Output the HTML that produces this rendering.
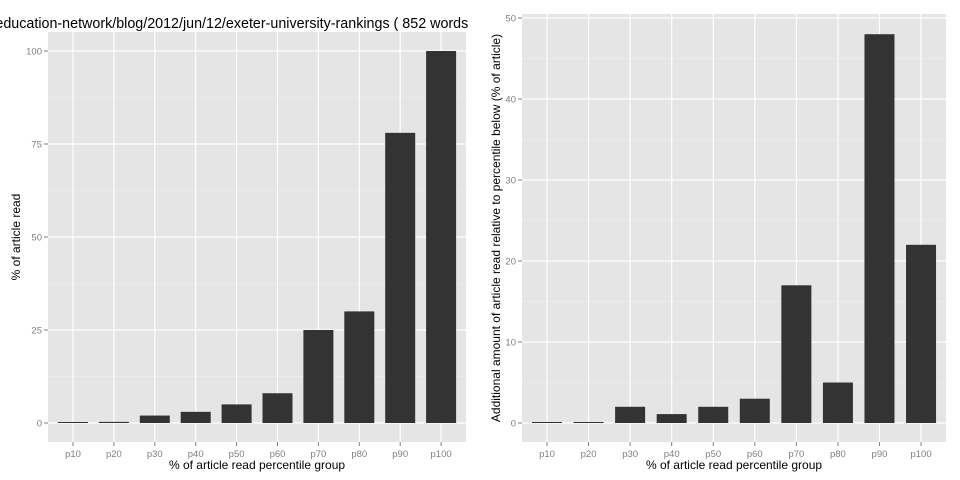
<!DOCTYPE html>
<html><head><meta charset="utf-8"><style>
html,body{margin:0;padding:0;background:#fff;width:960px;height:480px;overflow:hidden}
svg text{font-family:"Liberation Sans",sans-serif}
</style></head><body>
<svg id="c" width="960" height="480">
<defs><clipPath id="lc"><rect x="0" y="0" width="472" height="480"/></clipPath></defs>
</svg>
<script>
const categories=["p10","p20","p30","p40","p50","p60","p70","p80","p90","p100"];
const leftValues=[0.2,0.3,2,3,5,8,25,30,78,100];
const rightValues=[0.1,0.1,2,1.1,2,3,17,5,48,22];
const leftTicks=[0,25,50,75,100];
const rightTicks=[0,10,20,30,40,50];
const NS="http://www.w3.org/2000/svg";
const svg=document.getElementById('c');
function mk(t,a,p){const e=document.createElementNS(NS,t);for(const k in a)e.setAttribute(k,a[k]);(p||svg).appendChild(e);return e;}
function panel(o){
  const g=mk('g',{});
  
  
  const bg=mk('rect',{x:o.x0,y:o.y0,width:o.x1-o.x0,height:o.y1-o.y0,fill:'#e5e5e5'},g);
  
  
  const yS=v=>o.zeroY-v*o.ppu;
  const xS=i=>o.firstX+i*o.step;
  for(let i=0;i<o.ticks.length-1;i++){const m=(o.ticks[i]+o.ticks[i+1])/2;const y=yS(m);
    mk('line',{x1:o.x0,x2:o.x1,y1:y,y2:y,stroke:'#f2f2f2','stroke-width':0.6},g);}
  o.ticks.forEach(t=>{const y=yS(t);
    mk('line',{x1:o.x0,x2:o.x1,y1:y,y2:y,stroke:'#fff','stroke-width':1.2},g);
    mk('line',{x1:o.x0-4,x2:o.x0,y1:y,y2:y,stroke:'#7f7f7f','stroke-width':1},g);
    const tx=mk('text',{x:o.x0-6,y:y+3.5,'text-anchor':'end','font-size':9.5,fill:'#7f7f7f'},g);tx.textContent=t;
    
    
  });
  categories.forEach((c,i)=>{const x=xS(i);
    mk('line',{x1:x,x2:x,y1:o.y0,y2:o.y1,stroke:'#fff','stroke-width':1.2},g);
    mk('line',{x1:x,x2:x,y1:o.y1,y2:o.y1+4,stroke:'#7f7f7f','stroke-width':1},g);
    const tx=mk('text',{x:x,y:o.y1+15,'text-anchor':'middle','font-size':9.5,fill:'#7f7f7f'},g);tx.textContent=c;
    
    
  });
  o.values.forEach((v,i)=>{const x=xS(i);const top=yS(v);
    const r=mk('rect',{x:x-15,y:Math.min(top,o.zeroY-1),width:30,height:Math.max(o.zeroY-top,1),fill:'#333'},g);
    
    
  });
  const xl=mk('text',{x:(o.x0+o.x1)/2,y:o.y1+27,'text-anchor':'middle','font-size':12,fill:'#000'},g);xl.textContent='% of article read percentile group';
  
  
  const yl=mk('text',{transform:`translate(${o.ylx},${(o.y0+o.y1)/2}) rotate(-90)`,'text-anchor':'middle','font-size':12,fill:'#000'},g);yl.textContent=o.ytitle;
  
  
}
panel({name:'left-panel',x0:48,x1:466,y0:32,y1:442,zeroY:423,ppu:3.72,firstX:73,step:40.9,values:leftValues,ticks:leftTicks,ylx:20,ytitle:'% of article read'});
panel({name:'right-panel',x0:522,x1:946,y0:14,y1:442,zeroY:423,ppu:8.1,firstX:547,step:41.56,values:rightValues,ticks:rightTicks,ylx:500,ytitle:'Additional amount of article read relative to percentile below (% of article)'});
const tg=mk('g',{'clip-path':'url(#lc)'});
const t=mk('text',{x:477,y:28,'text-anchor':'end','font-size':14.3,fill:'#000'},tg);
t.textContent='http://www.guardian.co.uk/higher-education-network/blog/2012/jun/12/exeter-university-rankings ( 852 words )';


</script>
</body></html>
